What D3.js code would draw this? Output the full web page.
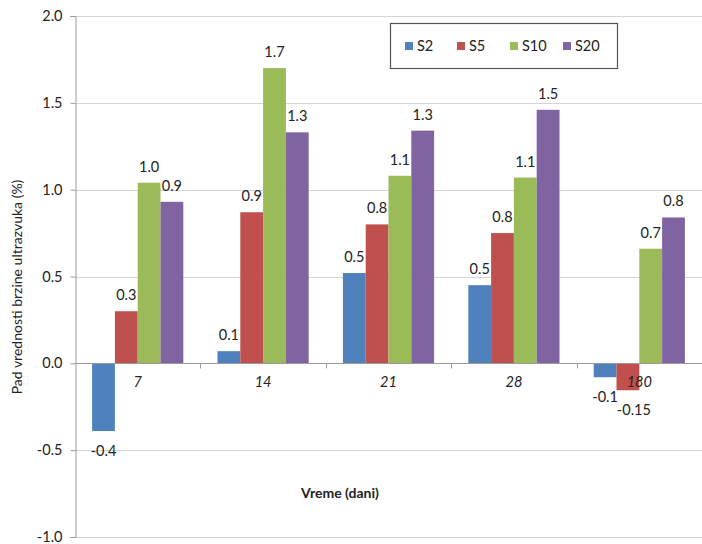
<!DOCTYPE html>
<html><head><meta charset="utf-8">
<script src="https://cdn.jsdelivr.net/npm/d3@7"></script>
<style>body{margin:0;background:#fff}svg{display:block;font-family:Lato,"Noto Sans",sans-serif}</style>
</head><body><svg id="c" width="702" height="544"></svg>
<script>
const categories = ["7", "14", "21", "28", "180"];
const seriesNames = ["S2", "S5", "S10", "S20"];
const colors = ["#4F81BD", "#C0504D", "#9BBB59", "#8064A2"];
const S2  = [-0.39, 0.07, 0.52, 0.45, -0.08];
const S5  = [0.30, 0.87, 0.80, 0.75, -0.155];
const S10 = [1.04, 1.70, 1.08, 1.07, 0.66];
const S20 = [0.93, 1.33, 1.34, 1.46, 0.84];
const labS2  = ["-0.4", "0.1", "0.5", "0.5", "-0.1"];
const labS5  = ["0.3", "0.9", "0.8", "0.8", "-0.15"];
const labS10 = ["1.0", "1.7", "1.1", "1.1", "0.7"];
const labS20 = ["0.9", "1.3", "1.3", "1.5", "0.8"];
const yTicks = [-1.0, -0.5, 0.0, 0.5, 1.0, 1.5, 2.0];
const yTitle = "Pad vrednosti brzine ultrazvuka (%)";
const xTitle = "Vreme (dani)";

const values = [S2, S5, S10, S20];
const labels = [labS2, labS5, labS10, labS20];

const svg = d3.select("#c");
const L = 75, R = 702, T = 16, B = 537;
const y = d3.scaleLinear().domain([-1, 2]).range([B, T]);
const x0 = d3.scaleBand().domain(categories).range([L, R]).paddingInner(0).paddingOuter(0);
const x1 = d3.scaleBand().domain(seriesNames).range([0, x0.bandwidth()]).paddingInner(0).paddingOuter(0.75);

// gridlines
svg.append("g").selectAll("line").data(yTicks).join("line")
  .attr("x1", L).attr("x2", R)
  .attr("y1", d => Math.round(y(d)) + 0.5).attr("y2", d => Math.round(y(d)) + 0.5)
  .attr("stroke", "#d4d4d4").attr("stroke-width", 1.2);

// y axis
const fmt = d => d.toFixed(1);
const ya = svg.append("g").attr("transform", `translate(${L + 0.5},0)`)
  .call(d3.axisLeft(y).tickValues(yTicks).tickFormat(fmt).tickSizeOuter(0).tickSize(5).tickPadding(8));
ya.select(".domain").attr("stroke", "#9a9a9a");
ya.selectAll(".tick line").attr("stroke", "#9a9a9a");
ya.selectAll(".tick text").attr("font-size", 14.5).attr("fill", "#222").attr("font-family", "Lato,'Noto Sans',sans-serif");

// bars
const rows = categories.map((c, i) => ({c, vals: values.map((v, j) => ({s: seriesNames[j], v: v[i], lab: labels[j][i], col: colors[j]}))}));
const g = svg.append("g").selectAll("g").data(rows).join("g")
  .attr("transform", d => `translate(${x0(d.c)},0)`);
g.selectAll("rect").data(d => d.vals).join("rect")
  .attr("x", d => x1(d.s)).attr("width", x1.bandwidth())
  .attr("y", d => y(Math.max(0, d.v))).attr("height", d => Math.abs(y(d.v) - y(0)))
  .attr("fill", d => d.col);
g.selectAll("text").data(d => d.vals).join("text")
  .attr("x", d => x1(d.s) + x1.bandwidth() / 2 + (d.lab === "-0.15" ? 6 : 0))
  .attr("y", d => d.v >= 0 ? y(d.v) - 11 : y(d.v) + 25)
  .attr("text-anchor", "middle").attr("font-size", 14.5).attr("fill", "#222")
  .text(d => d.lab);

// x axis at zero
const xa = svg.append("g").attr("transform", `translate(0,${Math.round(y(0)) + 0.5})`);
xa.append("line").attr("x1", L).attr("x2", R).attr("stroke", "#9a9a9a");
xa.selectAll("line.t").data(categories.slice(1).concat(["end"])).join("line").attr("class", "t")
  .attr("x1", (d, i) => Math.round(L + x0.step() * (i + 1)) + 0.5)
  .attr("x2", (d, i) => Math.round(L + x0.step() * (i + 1)) + 0.5)
  .attr("y1", 0).attr("y2", 5).attr("stroke", "#9a9a9a");
xa.selectAll("text").data(categories).join("text")
  .attr("x", d => x0(d) + x0.bandwidth() / 2).attr("y", 23)
  .attr("text-anchor", "middle").attr("font-size", 14.5).attr("font-style", "italic").attr("fill", "#222")
  .text(d => d);

// titles
svg.append("text").attr("transform", "translate(22,287) rotate(-90)")
  .attr("text-anchor", "middle").attr("font-size", 14).attr("fill", "#222").text(yTitle);
svg.append("text").attr("x", 340).attr("y", 498).attr("text-anchor", "middle")
  .attr("font-size", 14).attr("font-weight", "bold").attr("fill", "#222").text(xTitle);

// legend
const lg = svg.append("g");
lg.append("rect").attr("x", 390.5).attr("y", 23.5).attr("width", 227).attr("height", 45)
  .attr("fill", "#fff").attr("stroke", "#555").attr("stroke-width", 1.2);
const lx = [405, 457, 510, 563];
const li = lg.selectAll("g").data(seriesNames).join("g").attr("transform", (d, i) => `translate(${lx[i]},46)`);
li.append("rect").attr("x", 0).attr("y", -4).attr("width", 8).attr("height", 8).attr("fill", (d, i) => colors[i]);
li.append("text").attr("x", 12).attr("y", 5).attr("font-size", 14.5).attr("fill", "#222").text(d => d);
</script></body></html>
